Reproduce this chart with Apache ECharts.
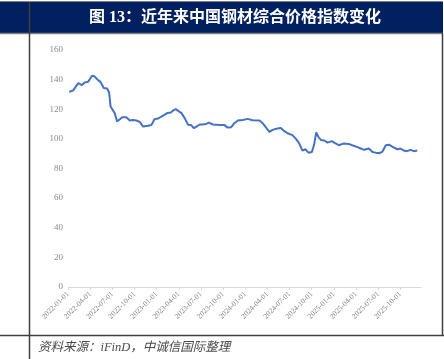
<!DOCTYPE html>
<html>
<head>
<meta charset="utf-8">
<script src="https://cdn.jsdelivr.net/npm/echarts@6/dist/echarts.min.js"></script>
<style>
html,body{margin:0;padding:0;background:#fff;}
#c{width:444px;height:359px;}
</style>
</head>
<body>
<div id="c"></div>
<script>
var titleText = '图 13：近年来中国钢材综合价格指数变化';
var sourceText = '资料来源：iFinD，中诚信国际整理';
var tickLabels = ['2022-01-01','2022-04-01','2022-07-01','2022-10-01','2023-01-01','2023-04-01','2023-07-01','2023-10-01','2024-01-01','2024-04-01','2024-07-01','2024-10-01','2025-01-01','2025-04-01','2025-07-01','2025-10-01'];
var yTicks = [0,20,40,60,80,100,120,140,160];
var dates = ['2022-01-06','2022-01-22','2022-02-12','2022-02-26','2022-03-09','2022-03-23','2022-04-09','2022-04-20','2022-04-29','2022-05-13','2022-05-27','2022-06-10','2022-06-18','2022-06-24','2022-07-02','2022-07-11','2022-07-21','2022-07-29','2022-08-12','2022-08-29','2022-09-12','2022-09-25','2022-10-09','2022-10-23','2022-11-06','2022-11-13','2022-11-26','2022-12-10','2022-12-23','2023-01-07','2023-01-21','2023-02-04','2023-02-13','2023-02-27','2023-03-08','2023-03-19','2023-03-28','2023-04-12','2023-04-25','2023-05-09','2023-05-22','2023-06-02','2023-06-13','2023-06-26','2023-07-09','2023-07-23','2023-08-03','2023-08-20','2023-09-17','2023-10-07','2023-10-20','2023-11-04','2023-11-17','2023-12-01','2023-12-21','2024-01-11','2024-02-01','2024-02-28','2024-03-12','2024-03-25','2024-04-09','2024-04-22','2024-05-12','2024-05-26','2024-06-10','2024-06-23','2024-07-13','2024-07-27','2024-08-10','2024-08-24','2024-09-05','2024-09-18','2024-10-02','2024-10-11','2024-10-20','2024-10-28','2024-11-08','2024-11-22','2024-12-05','2024-12-23','2025-01-06','2025-01-22','2025-02-09','2025-03-01','2025-03-16','2025-04-07','2025-04-20','2025-05-04','2025-05-24','2025-06-08','2025-06-21','2025-07-05','2025-07-18','2025-08-02','2025-08-15','2025-08-29','2025-09-19','2025-10-02','2025-10-16','2025-10-29','2025-11-13','2025-11-26','2025-12-10'];
var values = [131.8,132.6,137.6,136.3,138.0,138.5,142.6,142.1,140.3,138.5,134.3,134.0,131.3,121.8,122.3,117.4,111.7,112.8,114.6,114.6,112.4,112.8,112.4,111.5,108.3,107.4,108.8,109.3,113.3,113.7,115.1,116.4,117.4,117.8,119.1,120.1,119.1,117.4,114.0,109.5,109.3,107.2,108.3,109.7,109.7,110.1,111.0,109.7,109.3,109.3,107.6,107.9,110.6,112.4,112.8,113.5,112.6,112.4,110.6,107.9,104.7,106.1,107.0,107.4,105.2,103.8,102.5,100.2,97.1,92.1,93.0,90.7,91.2,96.0,104.3,101.6,99.3,98.9,97.5,98.5,97.1,95.7,96.8,96.6,95.7,94.4,93.5,92.6,93.5,91.2,90.7,90.3,91.2,95.7,96.1,94.8,93.0,93.5,92.1,91.7,92.6,91.7,92.1];

function monthsSince2022(s){
  var p = s.split('-').map(Number);
  var dim = new Date(p[0], p[1], 0).getDate();
  return (p[0]-2022)*12 + (p[1]-1) + (p[2]-1)/dim;
}
var seriesData = dates.map(function(d,i){ return [monthsSince2022(d), values[i]]; });

var chart = echarts.init(document.getElementById('c'), null, {renderer:'canvas'});
var frame = '#3f3f3f';
chart.setOption({
  animation:false,
  backgroundColor:'#ffffff',
  grid:{left:68, right:23, top:50, bottom:72},
  xAxis:{
    type:'value', min:0, max:47.8, interval:3,
    axisLine:{show:true, lineStyle:{color:'#d9d9d9', width:1}},
    axisTick:{show:true, length:3, lineStyle:{color:'#d9d9d9'}},
    splitLine:{show:false},
    axisLabel:{
      rotate:45, margin:6, fontSize:7.5, color:'#7f7f7f',
      fontFamily:'Liberation Serif', showMaxLabel:false,
      formatter:function(v){ var i=Math.round(v/3); return tickLabels[i]||''; }
    }
  },
  yAxis:{
    type:'value', min:yTicks[0], max:yTicks[yTicks.length-1], interval:20,
    axisLine:{show:false}, axisTick:{show:false}, splitLine:{show:false},
    axisLabel:{margin:5, fontSize:9, color:'#8a8a8a', fontFamily:'Liberation Serif'}
  },
  series:[{
    type:'line', data:seriesData, showSymbol:false, symbol:'none',
    lineStyle:{color:'#4472C4', width:2}
  }],
  graphic:[
    {type:'rect', shape:{x:0,y:1,width:443,height:32}, style:{fill:'#002060'}, z:-1},
    {type:'line', shape:{x1:0,y1:1.5,x2:443,y2:1.5}, style:{stroke:'#7f7f7f',lineWidth:1}},
    {type:'line', shape:{x1:0,y1:33.5,x2:443,y2:33.5}, style:{stroke:'#7f7f7f',lineWidth:1.5}},
    {type:'line', shape:{x1:29.5,y1:2,x2:29.5,y2:359}, style:{stroke:frame,lineWidth:1.5}},
    {type:'line', shape:{x1:442.5,y1:33,x2:442.5,y2:336}, style:{stroke:frame,lineWidth:1.5}},
    {type:'line', shape:{x1:0,y1:335.5,x2:444,y2:335.5}, style:{stroke:frame,lineWidth:1.5}},
    {type:'text', x:235, y:18, style:{text:titleText, fill:'#ffffff', font:'bold 16px "Liberation Serif","Noto Sans CJK SC"', textAlign:'center', textVerticalAlign:'middle'}},
    {type:'text', x:38, y:348, style:{text:sourceText, fill:'#4a4a4a', font:'italic 12.5px "Liberation Serif","Noto Sans CJK SC"', textAlign:'left', textVerticalAlign:'middle'}}
  ]
});
</script>
</body>
</html>
